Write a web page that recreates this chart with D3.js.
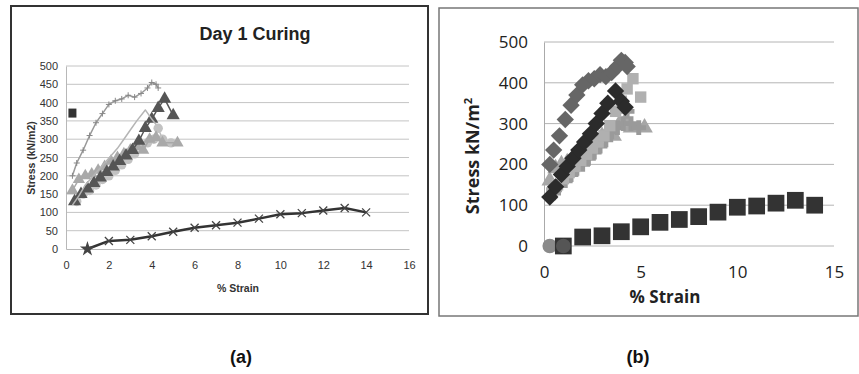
<!DOCTYPE html>
<html><head><meta charset="utf-8">
<script src="https://cdn.jsdelivr.net/npm/d3@7/dist/d3.min.js"></script>
<style>body{margin:0;background:#fff}svg{display:block}</style>
</head><body>
<svg id="c" width="859" height="374"></svg>
<script>
// ---- data (strain %, stress kN/m2) ----
const s1x = [0.3,0.5,0.8,1.1,1.4,1.7,2.0,2.3,2.6,2.9,3.2,3.5,3.8,4.0,4.2,4.3];
const s1y = [200,235,270,310,345,370,395,405,410,420,415,425,440,455,450,440];
const s2x = [0.3,0.6,0.9,1.2,1.5,1.8,2.1,2.4,2.7,3.0,3.3,3.7,4.0,4.2];
const s2y = [120,145,175,195,215,235,255,275,300,325,350,380,355,340];
const s3x = [0.4,0.7,1.0,1.3,1.6,1.9,2.2,2.5,2.8,3.1,3.4,3.7,4.0,4.3,4.6,5.0];
const s3y = [130,150,165,180,195,210,225,240,255,270,295,330,355,385,410,365];
const s4x = [0.3,0.6,0.9,1.2,1.5,1.8,2.1,2.4,2.7,3.0,3.3,3.6,3.9,4.2,4.5,5.2];
const s4y = [160,190,200,205,215,225,240,250,260,270,280,270,300,305,290,290];
const s5x = [0.5,0.8,1.1,1.4,1.7,2.0,2.3,2.6,2.9,3.2,3.5,3.8,4.1,4.3,4.5,4.9];
const s5y = [130,150,160,175,190,200,215,230,245,260,280,290,300,330,300,290];
const s6x = [1,2,3,4,5,6,7,8,9,10,11,12,13,14];
const s6y = [0,22,25,35,47,58,65,72,83,95,98,105,112,100];
const extraAx = [0.3], extraAy = [370];
const extraBx = [0.3,1.0], extraBy = [0,0];
const ticksAx = [0,2,4,6,8,10,12,14,16];
const ticksAy = [0,50,100,150,200,250,300,350,400,450,500];
const ticksBx = [0,5,10,15];
const ticksBy = [0,100,200,300,400,500];
const zip = (xs, ys) => xs.map((x, i) => [x, ys[i]]);

const svg = d3.select("#c");
const NARROW = "Liberation Sans Narrow, Arial Narrow, sans-serif";

// ================= Panel (a) =================
const A = svg.append("g");
A.append("rect").attr("x",11).attr("y",6).attr("width",417).attr("height",308)
  .attr("fill","#fff").attr("stroke","#333").attr("stroke-width",2);
const xa = d3.scaleLinear().domain([0,16]).range([66,409]);
const ya = d3.scaleLinear().domain([0,500]).range([249,66]);
A.append("g").selectAll("line").data(ticksAy.filter(d=>d>0)).join("line")
  .attr("x1",66).attr("x2",409).attr("y1",d=>ya(d)).attr("y2",d=>ya(d))
  .attr("stroke","#c4c4c4").attr("stroke-width",1);
const axA = A.append("g").attr("transform","translate(66,0)")
  .call(d3.axisLeft(ya).tickValues(ticksAy).tickSize(0).tickPadding(8));
axA.select(".domain").attr("stroke","#b8b8b8");
axA.selectAll("text").attr("font-family",NARROW).attr("font-size",11).attr("fill","#333");
const bxA = A.append("g").attr("transform","translate(0,249)")
  .call(d3.axisBottom(xa).tickValues(ticksAx).tickSize(0).tickPadding(12));
bxA.select(".domain").attr("stroke","#b8b8b8");
bxA.selectAll("text").attr("font-family",NARROW).attr("font-size",11).attr("fill","#333");
A.append("text").attr("x",255).attr("y",40).attr("text-anchor","middle")
  .attr("font-family",NARROW).attr("font-weight","bold").attr("font-size",18).attr("fill","#222").text("Day 1 Curing");
A.append("text").attr("transform","translate(35,158) rotate(-90)").attr("text-anchor","middle")
  .attr("font-family",NARROW).attr("font-weight","bold").attr("font-size",10.5).attr("fill","#333").text("Stress (kN/m2)");
A.append("text").attr("x",238).attr("y",292).attr("text-anchor","middle")
  .attr("font-family",NARROW).attr("font-weight","bold").attr("font-size",10.5).attr("fill","#333").text("% Strain");

const lineA = d3.line().x(d=>xa(d[0])).y(d=>ya(d[1]));
function pathA(data, color, w){
  A.append("path").datum(data).attr("d",lineA).attr("fill","none").attr("stroke",color).attr("stroke-width",w).attr("stroke-linejoin","round");
}
function symA(data, type, size, color){
  A.append("g").selectAll("path").data(data).join("path")
    .attr("transform",d=>`translate(${xa(d[0])},${ya(d[1])})`)
    .attr("d",d3.symbol().type(type).size(size)).attr("fill",color);
}
// circles (light)
pathA(zip(s5x,s5y),"#bdbdbd",1.5); symA(zip(s5x,s5y),d3.symbolCircle,70,"#c2c2c2");
// light triangles
pathA(zip(s4x,s4y),"#a8a8a8",1.5); symA(zip(s4x,s4y),d3.symbolTriangle,65,"#a9a9a9");
// dark triangles
pathA(zip(s3x,s3y),"#555",1.5); symA(zip(s3x,s3y),d3.symbolTriangle,75,"#555");
// light line
pathA(zip(s2x,s2y),"#b5b5b5",1.5);
// plus line
pathA(zip(s1x,s1y),"#999",1.5);
A.append("g").selectAll("path").data(zip(s1x,s1y)).join("path")
  .attr("transform",d=>`translate(${xa(d[0])},${ya(d[1])})`)
  .attr("d","M-3,0H3M0,-3V3").attr("stroke","#888").attr("stroke-width",1);
// dark square
A.append("g").selectAll("rect").data(zip(extraAx,extraAy)).join("rect")
  .attr("x",d=>xa(d[0])-4).attr("y",d=>ya(d[1])-5).attr("width",8).attr("height",9).attr("fill","#333");
// x-marker line
pathA(zip(s6x,s6y),"#333",2.5);
A.append("g").selectAll("path").data(zip(s6x,s6y).slice(1)).join("path")
  .attr("transform",d=>`translate(${xa(d[0])},${ya(d[1])})`)
  .attr("d","M-4,-4L4,4M-4,4L4,-4").attr("stroke","#444").attr("stroke-width",1.3);
A.append("path").attr("transform",`translate(${xa(s6x[0])},${ya(s6y[0])})`)
  .attr("d",d3.symbol().type(d3.symbolStar).size(70)).attr("fill","#444");

// ================= Panel (b) =================
const B = svg.append("g");
B.append("rect").attr("x",439).attr("y",8).attr("width",419).attr("height",308)
  .attr("fill","#fff").attr("stroke","#777").attr("stroke-width",1.5);
const xb = d3.scaleLinear().domain([0,15]).range([544,834]);
const yb = d3.scaleLinear().domain([0,500]).range([246,42]);
B.append("g").selectAll("line").data(ticksBy).join("line")
  .attr("x1",544).attr("x2",834).attr("y1",d=>yb(d)).attr("y2",d=>yb(d))
  .attr("stroke","#b4b4b4").attr("stroke-width",1);
const axB = B.append("g").attr("transform","translate(544,0)")
  .call(d3.axisLeft(yb).tickValues(ticksBy).tickSize(0).tickPadding(16));
axB.select(".domain").attr("stroke","#aaa");
axB.selectAll("text").attr("font-family","Open Sans, sans-serif").attr("font-size",17).attr("fill","#222");
const bxB = B.append("g").attr("transform","translate(0,246)")
  .call(d3.axisBottom(xb).tickValues(ticksBx).tickSize(0).tickPadding(20));
bxB.select(".domain").remove();
bxB.selectAll("text").attr("font-family","Open Sans, sans-serif").attr("font-size",17).attr("fill","#222");
B.append("text").attr("transform","translate(479,156) rotate(-90)").attr("text-anchor","middle")
  .attr("font-family","Open Sans, sans-serif").attr("font-weight","bold").attr("font-size",18).attr("fill","#222")
  .text("Stress kN/m").append("tspan").attr("font-size",11).attr("dy",-7).text("2");
B.append("text").attr("x",665).attr("y",303).attr("text-anchor","middle")
  .attr("font-family","Open Sans, sans-serif").attr("font-weight","bold").attr("font-size",17).attr("fill","#222").text("% Strain");

function symB(data, type, size, color){
  B.append("g").selectAll("path").data(data).join("path")
    .attr("transform",d=>`translate(${xb(d[0])},${yb(d[1])})`)
    .attr("d",d3.symbol().type(type).size(size)).attr("fill",color);
}
symB(zip(s4x,s4y),d3.symbolTriangle,120,"#a6a6a6");
symB(zip(s5x,s5y),d3.symbolCross,120,"#9a9a9a");
symB(zip(s3x,s3y),d3.symbolSquare,130,"#b0b0b0");
B.append("g").selectAll("path").data(zip(s1x,s1y)).join("path")
  .attr("transform",d=>`translate(${xb(d[0])},${yb(d[1])}) rotate(45)`)
  .attr("d",d3.symbol().type(d3.symbolSquare).size(150)).attr("fill","#666");
B.append("g").selectAll("path").data(zip(s2x,s2y)).join("path")
  .attr("transform",d=>`translate(${xb(d[0])},${yb(d[1])}) rotate(45)`)
  .attr("d",d3.symbol().type(d3.symbolSquare).size(150)).attr("fill","#2b2b2b");
symB(zip(extraBx,extraBy).slice(0,1),d3.symbolCircle,170,"#8a8a8a");
symB(zip(s6x,s6y),d3.symbolSquare,280,"#333");
symB(zip(extraBx,extraBy).slice(1),d3.symbolCircle,170,"#555");

// ---- captions ----
svg.append("text").attr("x",241).attr("y",363).attr("text-anchor","middle")
  .attr("font-family","Liberation Sans, Arial, sans-serif").attr("font-weight","bold").attr("font-size",18).attr("fill","#111").text("(a)");
svg.append("text").attr("x",638).attr("y",363).attr("text-anchor","middle")
  .attr("font-family","Liberation Sans, Arial, sans-serif").attr("font-weight","bold").attr("font-size",18).attr("fill","#111").text("(b)");
</script>
</body></html>
